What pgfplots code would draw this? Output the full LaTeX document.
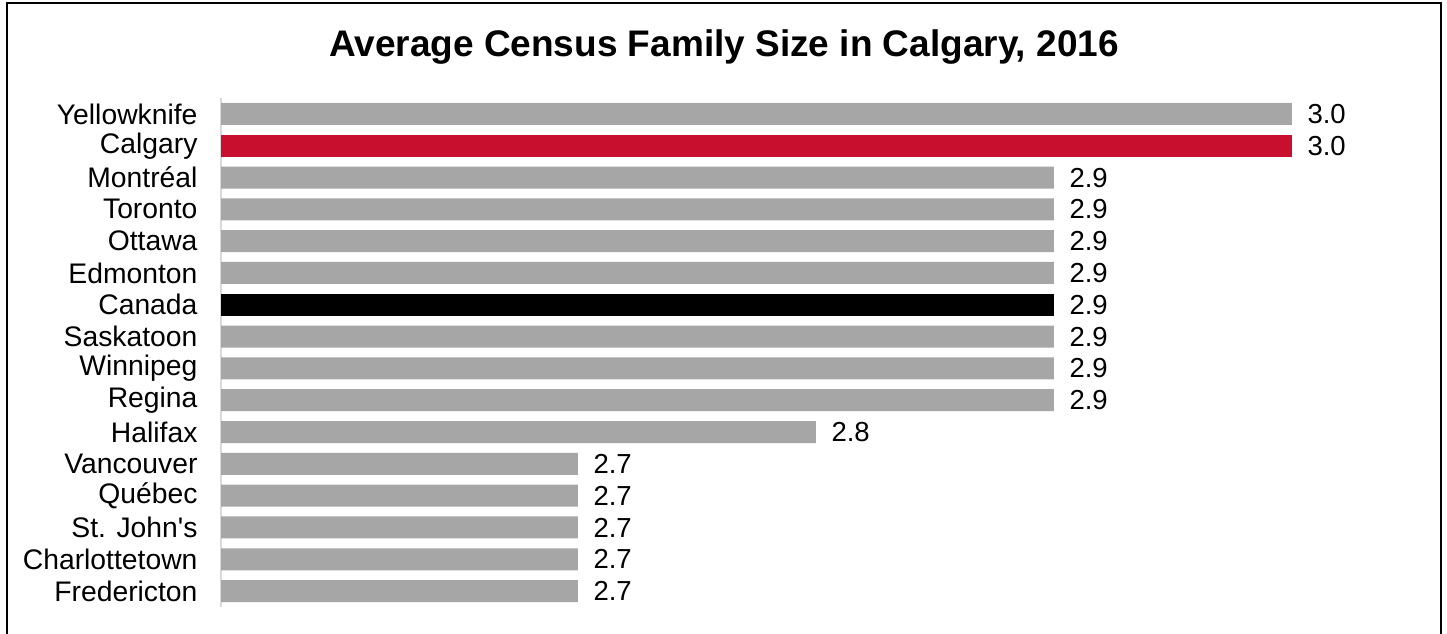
\documentclass[border=0pt]{standalone}
\usepackage{pgfplots}
\pgfplotsset{compat=1.18}
\usepackage{fontspec}
\setmainfont{Liberation Sans}
\definecolor{bargray}{HTML}{A6A6A6}
\definecolor{calred}{HTML}{C8102E}
\definecolor{axisgray}{HTML}{D9D9D9}

\begin{document}
\begin{tikzpicture}[x=1pt,y=1pt]
\useasboundingbox (0,0) rectangle (1447,633);
\draw[line width=2pt] (7,-20) rectangle (1441,630);
\node[font=\fontsize{37}{40}\selectfont\bfseries] at (724,586) {Average Census Family Size in Calgary, 2016};
\begin{axis}[
    at={(221pt,26pt)}, anchor=south west,
    scale only axis, width=1428pt, height=509pt,
    xbar, bar width=22pt, bar shift=0pt,
    xmin=2.55, xmax=3.15,
    ymin=-0.5, ymax=15.5, y dir=reverse,
    ytick={0,...,15},
    yticklabels={Yellowknife,Calgary,Montréal,Toronto,Ottawa,Edmonton,Canada,Saskatoon,Winnipeg,Regina,Halifax,Vancouver,Québec,St. John\textquotesingle s,Charlottetown,Fredericton},
    axis x line=none,
    axis y line*=left,
    y axis line style={draw=axisgray, line width=1.5pt},
    major tick length=0pt,
    yticklabel style={font=\fontsize{28.3}{30}\selectfont, xshift=-20pt},
    /pgf/number format/assume math mode=true,
    point meta=x,
    nodes near coords={\pgfmathprintnumber[fixed,fixed zerofill,precision=1]{\pgfplotspointmeta}},
    nodes near coords style={font=\fontsize{27.5}{30}\selectfont, anchor=west, xshift=12pt},
]
\addplot[fill=bargray, draw=none] coordinates {
    (3.0,0) (2.9,2) (2.9,3) (2.9,4) (2.9,5) (2.9,7) (2.9,8) (2.9,9)
    (2.8,10) (2.7,11) (2.7,12) (2.7,13) (2.7,14) (2.7,15)
};
\addplot[fill=calred, draw=none] coordinates {(3.0,1)};
\addplot[fill=black, draw=none] coordinates {(2.9,6)};
\end{axis}
\end{tikzpicture}
\end{document}
